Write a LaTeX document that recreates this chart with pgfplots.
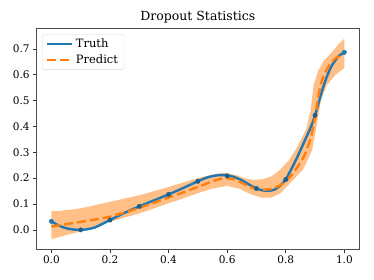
\documentclass[border=0pt]{standalone}
\usepackage{pgfplots}
\pgfplotsset{compat=1.18}
\usepgfplotslibrary{fillbetween}
\usepackage{fontspec}
\setmainfont{DejaVu Serif}
\definecolor{C0}{HTML}{1F77B4}
\definecolor{C1}{HTML}{FF7F0E}
\begin{document}
\begin{tikzpicture}
\begin{axis}[
  at={(0,0)}, anchor=south west,
  scale only axis, width=322.3bp, height=221bp,
  xmin=-0.05, xmax=1.05, ymin=-0.074, ymax=0.781,
  xtick={0,0.2,0.4,0.6,0.8,1.0},
  ytick={0,0.1,0.2,0.3,0.4,0.5,0.6,0.7},
  /pgf/number format/fixed, /pgf/number format/fixed zerofill, /pgf/number format/precision=1,
  /pgf/number format/assume math mode=true,
  tick label style={font=\fontsize{10.5bp}{12bp}\selectfont, text=black},
  tick align=outside, major tick length=3.5bp,
  tick style={black!80, line width=0.6bp},
  axis line style={black!70, line width=0.8bp},
  xtick pos=bottom, ytick pos=left,
  title={Dropout Statistics},
  title style={font=\fontsize{12.5bp}{14bp}\selectfont, yshift=-5bp},
  legend style={at={(0,1)}, xshift=5.6bp, yshift=-6bp, anchor=north west,
    draw=black!15, rounded corners=2bp, fill=white, fill opacity=0.8, text opacity=1,
    font=\fontsize{11.5bp}{13bp}\selectfont, inner xsep=3bp, inner ysep=2.5bp,
    row sep=2bp, nodes={inner xsep=3bp}},
  legend cell align=left,
  legend image code/.code={\draw[#1] (0bp,0bp) -- (25bp,0bp);},
]
% training points under the band
\addplot[only marks, mark=*, mark size=2.2bp, color=C0!80!black, forget plot] coordinates {
(0.1,0.000) (0.2,0.038) (0.3,0.091) (0.4,0.137) (0.5,0.188) (0.6,0.209) (0.7,0.160) (0.8,0.195) (0.9,0.443)};
% band
\addplot[name path=up, draw=none, forget plot] coordinates {
(0.00,0.072) (0.03,0.073) (0.05,0.077) (0.08,0.080) (0.10,0.084) (0.13,0.090) (0.15,0.096) (0.18,0.103) (0.20,0.109) (0.23,0.116) (0.25,0.121) (0.28,0.129) (0.30,0.134) (0.33,0.143) (0.35,0.150) (0.38,0.159) (0.40,0.166) (0.43,0.176) (0.45,0.183) (0.48,0.193) (0.50,0.200) (0.53,0.209) (0.55,0.214) (0.58,0.220) (0.60,0.219) (0.63,0.212) (0.66,0.200) (0.69,0.193) (0.72,0.196) (0.75,0.206) (0.78,0.232) (0.81,0.268) (0.84,0.322) (0.87,0.390) (0.885,0.464) (0.895,0.560) (0.91,0.614) (0.93,0.655) (0.96,0.690) (0.98,0.718) (1.00,0.740)};
\addplot[name path=lo, draw=none, forget plot] coordinates {
(0.00,-0.036) (0.03,-0.027) (0.05,-0.020) (0.08,-0.012) (0.10,-0.006) (0.13,0.005) (0.15,0.012) (0.18,0.024) (0.20,0.032) (0.23,0.041) (0.25,0.048) (0.28,0.057) (0.30,0.064) (0.33,0.075) (0.35,0.083) (0.38,0.095) (0.40,0.103) (0.43,0.114) (0.45,0.122) (0.48,0.134) (0.50,0.142) (0.55,0.160) (0.60,0.170) (0.64,0.160) (0.68,0.138) (0.72,0.124) (0.75,0.125) (0.78,0.140) (0.82,0.187) (0.86,0.235) (0.89,0.309) (0.905,0.400) (0.92,0.500) (0.94,0.560) (0.97,0.600) (1.00,0.626)};
\addplot[fill=C1, fill opacity=0.5, draw=none, forget plot] fill between[of=up and lo];
% truth
\addplot[color=C0, line width=2.4bp, smooth, tension=0.3] coordinates {
(0.00,0.033) (0.02,0.020) (0.04,0.010) (0.06,0.004) (0.08,0.001) (0.10,0.000) (0.12,0.002) (0.15,0.010) (0.20,0.038) (0.25,0.066) (0.30,0.091) (0.35,0.114) (0.40,0.137) (0.45,0.162) (0.50,0.188) (0.53,0.202) (0.56,0.210) (0.59,0.212) (0.62,0.206) (0.65,0.192) (0.68,0.172) (0.70,0.160) (0.72,0.153) (0.74,0.151) (0.76,0.155) (0.78,0.170) (0.80,0.195) (0.82,0.237) (0.84,0.283) (0.86,0.333) (0.88,0.383) (0.89,0.410) (0.90,0.443) (0.91,0.482) (0.92,0.523) (0.93,0.560) (0.94,0.592) (0.95,0.619) (0.96,0.641) (0.98,0.672) (1.00,0.687)};
\addlegendentry{Truth}
% predict
\addplot[color=C1, line width=2.4bp, dash pattern=on 9bp off 4bp, smooth, tension=0.2] coordinates {
(0.00,0.013) (0.05,0.022) (0.10,0.031) (0.15,0.040) (0.20,0.051) (0.25,0.067) (0.30,0.085) (0.35,0.105) (0.40,0.125) (0.45,0.145) (0.50,0.166) (0.55,0.188) (0.58,0.198) (0.60,0.200) (0.62,0.197) (0.65,0.182) (0.68,0.165) (0.70,0.158) (0.72,0.155) (0.75,0.158) (0.78,0.172) (0.80,0.188) (0.82,0.212) (0.84,0.243) (0.86,0.280) (0.87,0.305) (0.88,0.337) (0.89,0.378) (0.90,0.435) (0.91,0.510) (0.92,0.565) (0.93,0.600) (0.95,0.640) (0.97,0.664) (1.00,0.682)};
\addlegendentry{Predict}
% end points on top
\addplot[only marks, mark=*, mark size=2.2bp, color=C0, forget plot] coordinates {(0.0,0.033) (1.0,0.687)};
\end{axis}
\pgfresetboundingbox
\useasboundingbox (-36.7bp,-31bp) rectangle (337.3bp,249bp);
\end{tikzpicture}
\end{document}
